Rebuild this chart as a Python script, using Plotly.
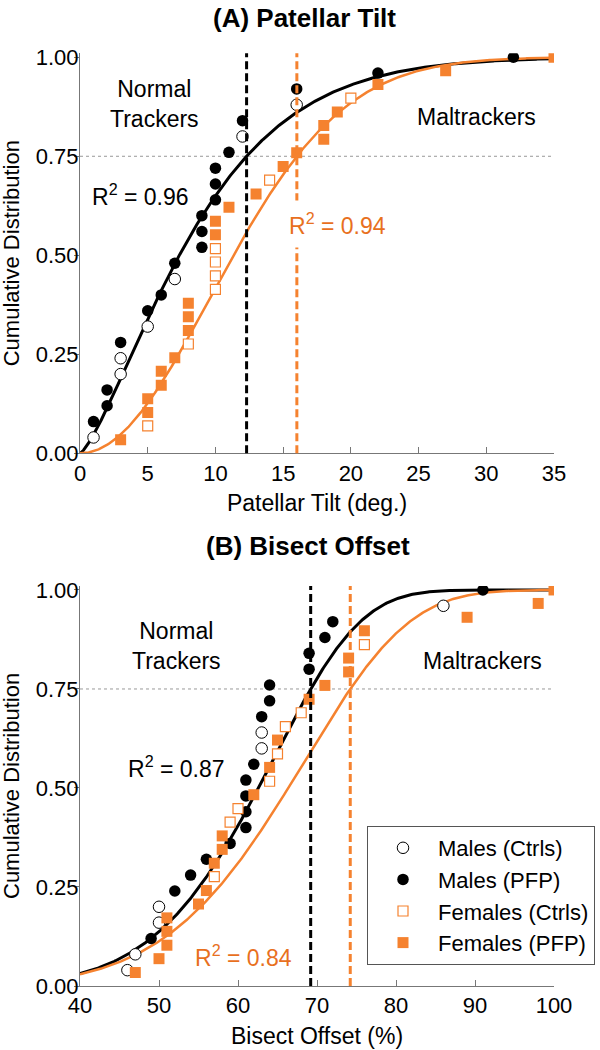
import numpy as np
import plotly.graph_objects as go

# ---------------- Panel A : Patellar Tilt ----------------
a_male_ctrl_x = [1, 3, 3, 5, 7, 12, 16]
a_male_ctrl_y = [0.04, 0.20, 0.24, 0.32, 0.44, 0.80, 0.88]
a_male_pfp_x = [1, 2, 2, 3, 5, 6, 7, 9, 9, 9, 10, 10, 10, 11, 12, 16, 22, 32]
a_male_pfp_y = [0.08, 0.12, 0.16, 0.28, 0.36, 0.40, 0.48, 0.52, 0.56, 0.60,
                0.64, 0.68, 0.72, 0.76, 0.84, 0.92, 0.96, 1.00]
a_fem_ctrl_x = [5, 8, 10, 10, 10, 10, 14, 20]
a_fem_ctrl_y = [0.069, 0.276, 0.414, 0.448, 0.483, 0.517, 0.690, 0.897]
a_fem_pfp_x = [3, 5, 5, 6, 6, 7, 8, 8, 8, 10, 10, 11, 13, 15, 16, 18, 18, 19, 22, 27, 35]
a_fem_pfp_y = [0.034, 0.103, 0.138, 0.172, 0.207, 0.241, 0.310, 0.345, 0.379, 0.552,
               0.586, 0.621, 0.655, 0.724, 0.759, 0.793, 0.828, 0.862, 0.931, 0.966, 1.000]
# Weibull fits (shape k, scale lambda)
a_male_fit = (1.34, 9.64)
a_fem_fit = (2.0, 13.6)

# ---------------- Panel B : Bisect Offset ----------------
b_male_ctrl_x = [46, 47, 50, 50, 63, 63, 86]
b_male_ctrl_y = [0.04, 0.08, 0.16, 0.20, 0.60, 0.64, 0.96]
b_male_pfp_x = [49, 52, 54, 56, 59, 61, 61, 61, 61, 62, 63, 64, 64, 69, 69, 71, 72, 91]
b_male_pfp_y = [0.12, 0.24, 0.28, 0.32, 0.36, 0.40, 0.44, 0.48, 0.52, 0.56,
                0.68, 0.72, 0.76, 0.80, 0.84, 0.88, 0.92, 1.00]
b_fem_ctrl_x = [57, 59, 60, 64, 65, 66, 68, 76]
b_fem_ctrl_y = [0.276, 0.414, 0.448, 0.517, 0.586, 0.655, 0.690, 0.862]
b_fem_pfp_x = [47, 50, 51, 51, 51, 55, 56, 57, 58, 58, 62, 64, 65, 69, 71, 74, 74, 76, 89, 98, 100]
b_fem_pfp_y = [0.034, 0.069, 0.103, 0.138, 0.172, 0.207, 0.241, 0.310, 0.345, 0.379,
               0.483, 0.552, 0.621, 0.724, 0.759, 0.793, 0.828, 0.897, 0.931, 0.966, 1.000]
b_male_fit = (6.9, 66.0)
b_fem_fit = (6.2, 70.4)

y_ticks = [0, 0.25, 0.5, 0.75, 1.0]

ORANGE = "#F5822F"
ORANGE_TXT = "#E8701E"
FONT = "Arial, Liberation Sans, sans-serif"

W, H = 600, 1050


def px(x):
    return x / W


def py(y):
    return 1 - y / H


def weibull(x, fit):
    k, lam = fit
    return 1 - np.exp(-(np.asarray(x) / lam) ** k)


def x75(fit):
    k, lam = fit
    return lam * np.log(4.0) ** (1.0 / k)


fig = go.Figure()


def add_panel(xa, ya, rng, mc, mp, fc, fp, mfit, ffit, legend):
    xs = np.linspace(rng[0], rng[1], 400)
    fig.add_trace(go.Scatter(x=xs, y=weibull(xs, mfit), mode="lines",
                             line=dict(color="black", width=3), showlegend=False,
                             xaxis=xa, yaxis=ya, hoverinfo="skip"))
    fig.add_trace(go.Scatter(x=xs, y=weibull(xs, ffit), mode="lines",
                             line=dict(color=ORANGE, width=2.5), showlegend=False,
                             xaxis=xa, yaxis=ya, hoverinfo="skip"))
    fig.add_trace(go.Scatter(x=mc[0], y=mc[1], mode="markers", name="Males (Ctrls)",
                             marker=dict(symbol="circle", size=11.5, color="white",
                                         line=dict(color="black", width=1)),
                             showlegend=legend, xaxis=xa, yaxis=ya))
    fig.add_trace(go.Scatter(x=mp[0], y=mp[1], mode="markers", name="Males (PFP)",
                             marker=dict(symbol="circle", size=11.5, color="black",
                                         line=dict(width=0)),
                             showlegend=legend, xaxis=xa, yaxis=ya))
    fig.add_trace(go.Scatter(x=fc[0], y=fc[1], mode="markers", name="Females (Ctrls)",
                             marker=dict(symbol="square", size=10, color="white",
                                         line=dict(color=ORANGE, width=1.2)),
                             showlegend=legend, xaxis=xa, yaxis=ya))
    fig.add_trace(go.Scatter(x=fp[0], y=fp[1], mode="markers", name="Females (PFP)",
                             marker=dict(symbol="square", size=11, color=ORANGE,
                                         line=dict(width=0)),
                             showlegend=legend, xaxis=xa, yaxis=ya))
    # 0.75 reference line
    fig.add_shape(type="line", xref=xa, yref=ya, x0=rng[0], x1=rng[1], y0=0.75, y1=0.75,
                  line=dict(color="#999999", width=1, dash="dot"), layer="below")
    # 75th percentile thresholds
    fig.add_shape(type="line", xref=xa, yref=ya + " domain", x0=x75(mfit), x1=x75(mfit),
                  y0=0, y1=1, line=dict(color="black", width=3, dash="8px,4px"))
    fig.add_shape(type="line", xref=xa, yref=ya + " domain", x0=x75(ffit), x1=x75(ffit),
                  y0=0, y1=1, line=dict(color=ORANGE, width=3, dash="8px,4px"))


add_panel("x", "y", [0, 35], (a_male_ctrl_x, a_male_ctrl_y), (a_male_pfp_x, a_male_pfp_y),
          (a_fem_ctrl_x, a_fem_ctrl_y), (a_fem_pfp_x, a_fem_pfp_y), a_male_fit, a_fem_fit, False)
add_panel("x2", "y2", [40, 100], (b_male_ctrl_x, b_male_ctrl_y), (b_male_pfp_x, b_male_pfp_y),
          (b_fem_ctrl_x, b_fem_ctrl_y), (b_fem_pfp_x, b_fem_pfp_y), b_male_fit, b_fem_fit, True)

axis_common = dict(showgrid=False, zeroline=False, showline=True, linecolor="#777777",
                   linewidth=1, automargin=False,
                   tickfont=dict(size=22, color="black", family=FONT))
xcommon = dict(axis_common, ticks="inside", ticklen=6, tickcolor="#777777",
               ticklabelstandoff=0,
               title_font=dict(size=23, color="black", family=FONT))
ycommon = dict(axis_common, ticks="outside", ticklen=5, tickcolor="#777777",
               tickvals=y_ticks, tickformat=".2f", range=[0, 1.01],
               ticklabelstandoff=-9)

fig.update_layout(
    width=W, height=H, margin=dict(l=0, r=0, t=0, b=0, autoexpand=False),
    paper_bgcolor="white", plot_bgcolor="white",
    font=dict(family=FONT, size=22, color="black"),
    xaxis=dict(xcommon, domain=[px(80), px(554)], range=[0, 35], dtick=5, anchor="y",
               title=dict(text="Patellar Tilt (deg.)", standoff=10)),
    yaxis=dict(ycommon, domain=[py(453.3), py(53.3)], anchor="x"),
    xaxis2=dict(xcommon, domain=[px(80), px(554)], range=[40, 100], dtick=10, anchor="y2",
                title=dict(text="Bisect Offset (%)", standoff=10)),
    yaxis2=dict(ycommon, domain=[py(986), py(586)], anchor="x2"),
    legend=dict(x=px(367), y=py(826), xanchor="left", yanchor="top",
                bordercolor="#555555", borderwidth=1, bgcolor="white",
                font=dict(size=22, family=FONT, color="black"), itemwidth=60,
                tracegroupgap=0),
    showlegend=True,
)

ann = []
# titles
ann.append(dict(text="<b>(A) Patellar Tilt</b>", x=px(304), y=py(1), xref="paper", yref="paper",
                showarrow=False, font=dict(size=26, family=FONT, color="black"),
                xanchor="center", yanchor="top"))
ann.append(dict(text="<b>(B) Bisect Offset</b>", x=px(308), y=py(546), xref="paper", yref="paper",
                showarrow=False, font=dict(size=26, family=FONT, color="black"),
                xanchor="center", yanchor="middle"))
# y-axis titles
for yc in (253.3, 786):
    ann.append(dict(text="Cumulative Distribution", x=px(11), y=py(yc), xref="paper", yref="paper",
                    showarrow=False, textangle=-90, xanchor="center", yanchor="middle",
                    font=dict(size=22, family=FONT, color="black")))
# panel A texts
ann.append(dict(text="Normal<br>Trackers", x=5.5, y=0.882, xref="x", yref="y", showarrow=False,
                font=dict(size=23, color="black")))
ann.append(dict(text="R<sup>2</sup> = 0.96", x=4.5, y=0.652, xref="x", yref="y", showarrow=False,
                font=dict(size=23, color="black")))
ann.append(dict(text="Maltrackers", x=29.3, y=0.849, xref="x", yref="y", showarrow=False,
                font=dict(size=23, color="black")))
ann.append(dict(text="R<sup>2</sup> = 0.94", x=19.0, y=0.579, xref="x", yref="y", showarrow=False,
                font=dict(size=23, color=ORANGE_TXT), bgcolor="white", borderpad=8))
# panel B texts
ann.append(dict(text="Normal<br>Trackers", x=52.2, y=0.859, xref="x2", yref="y2", showarrow=False,
                font=dict(size=23, color="black")))
ann.append(dict(text="R<sup>2</sup> = 0.87", x=52.2, y=0.554, xref="x2", yref="y2", showarrow=False,
                font=dict(size=23, color="black")))
ann.append(dict(text="R<sup>2</sup> = 0.84", x=60.7, y=0.076, xref="x2", yref="y2", showarrow=False,
                font=dict(size=23, color=ORANGE_TXT)))
ann.append(dict(text="Maltrackers", x=90.9, y=0.821, xref="x2", yref="y2", showarrow=False,
                font=dict(size=23, color="black")))
fig.update_layout(annotations=ann)

# the page body has a default 8px margin; remove it so the figure fills the window
fig.write_html("out.html", config={"displayModeBar": False},
               post_script="document.body.style.margin='0px';")
